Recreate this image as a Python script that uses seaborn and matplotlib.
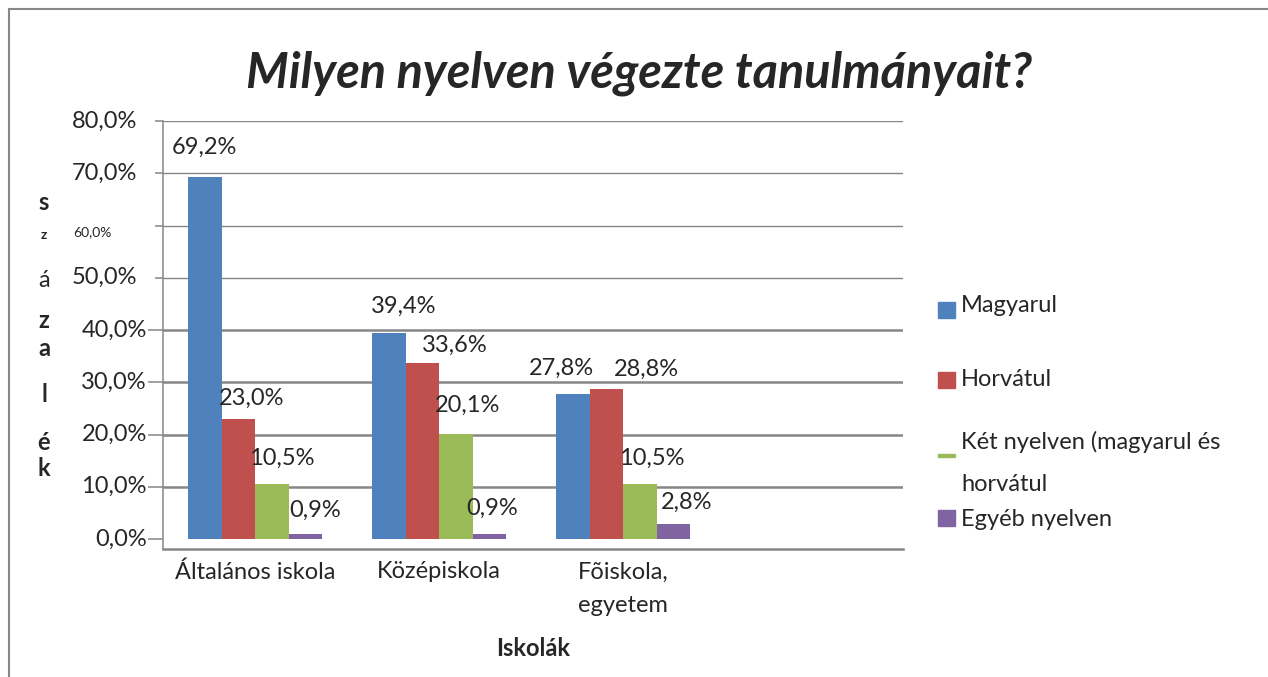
import numpy as np
import pandas as pd
import seaborn as sns
import matplotlib.pyplot as plt
from matplotlib.patches import Rectangle
from matplotlib.lines import Line2D

# adatok
iskolak = ['Általános iskola', 'Középiskola', 'Fõiskola,\negyetem']
nyelvek = ['Magyarul', 'Horvátul', 'Két nyelven (magyarul és horvátul', 'Egyéb nyelven']
magyarul = [69.2, 39.4, 27.8]
horvatul = [23.0, 33.6, 28.8]
ket_nyelven = [10.5, 20.1, 10.5]
egyeb = [0.9, 0.9, 2.8]
y_ticks = [0, 10, 20, 30, 40, 50, 60, 70, 80]
szinek = ['#4F81BD', '#C0504D', '#9BBB59', '#8064A2']
cim = 'Milyen nyelven végezte tanulmányait?'
y_cimke = 'százalék'
x_cimke = 'Iskolák'

# címkék eltolása pixelben (oszlop közepétől / tetejétől)
label_dx = [[0, 15, -12], [13, 32, 40], [10, 12, 12], [10, 3, 13]]
label_dy = [[30, 27, 25], [20, 18, 19], [26, 29, 26], [24, 26, 22]]

W, H = 1268, 677
def fx(x):
    return x / W
def fy(y):
    return 1 - y / H

ertekek = [magyarul, horvatul, ket_nyelven, egyeb]
df = pd.DataFrame({
    'iskola': iskolak * len(nyelvek),
    'nyelv': np.repeat(nyelvek, len(iskolak)),
    'arany': sum(ertekek, []),
})

sns.set_style('white')
plt.rcParams['font.family'] = ['Lato', 'DejaVu Sans']
szurke = '#868686'
betu = 17

fig = plt.figure(figsize=(W / 100, H / 100), dpi=100)
ax = fig.add_axes([fx(163), fy(549), 740 / W, 428 / H])

sns.barplot(data=df, x='iskola', y='arany', hue='nyelv', order=iskolak, hue_order=nyelvek,
            palette=szinek, saturation=1, width=0.728, errorbar=None, legend=False,
            linewidth=0, ax=ax)

ax.set_xlim(-0.5, 3.52)
ax.set_ylim(-1.91, 80)

# rácsvonalak
for v in y_ticks[1:]:
    ax.axhline(v, color=szurke, lw=1.0 if v >= 50 else 1.8, zorder=0)

for s in ['top', 'right']:
    ax.spines[s].set_visible(False)
ax.spines['left'].set_color(szurke)
ax.spines['left'].set_linewidth(1.1)
ax.spines['bottom'].set_color(szurke)
ax.spines['bottom'].set_linewidth(1.8)

# y tengely: jelölők és feliratok kézzel igazítva
ax.set_yticks(y_ticks)
ax.set_yticklabels([])
ax.tick_params(axis='y', length=15 * 0.72, width=1.1, color=szurke, left=True)
for v in y_ticks:
    if v == 60:
        dx, dy, meret = 51, -7, 10
    elif v >= 50:
        dx, dy, meret = 26, 0, betu
    else:
        dx, dy, meret = 16, 0, betu
    ax.annotate(f'{v:.1f}%'.replace('.', ','), xy=(0, v), xycoords=('axes fraction', 'data'),
                xytext=(-dx * 0.72, dy * 0.72), textcoords='offset points',
                ha='right', va='center', fontsize=meret, annotation_clip=False)

ax.set_xticks(range(len(iskolak)))
ax.set_xticklabels(iskolak, linespacing=1.75)
ax.tick_params(axis='x', length=0, pad=9, labelsize=betu)
for lab in ax.get_xticklabels():
    lab.set_multialignment('left')

ax.set_xlabel(x_cimke, fontsize=betu, fontweight='bold', labelpad=15)
ax.set_ylabel('')

# adatcímkék
for i, cont in enumerate(ax.containers):
    anns = ax.bar_label(cont, labels=[f'{v:.1f}%'.replace('.', ',') for v in ertekek[i]],
                        fontsize=betu)
    for j, ann in enumerate(anns):
        ann.xyann = (label_dx[i][j] * 0.72, label_dy[i][j] * 0.72)
        ann.set_va('center')

# felső jelölők rövidebbek
for tick, v in zip(ax.yaxis.get_major_ticks(), y_ticks):
    if v >= 50:
        tick.tick1line.set_markersize(8 * 0.72)

# függőleges tengelycím betűnként
betu_y = [202, 235, 280, 320, 349, 395, 443, 469]
for b, y, k in zip(y_cimke, betu_y, range(len(y_cimke))):
    meret = 10 if k == 1 else betu
    suly = 'normal' if b == 'á' else 'bold'
    fig.text(fx(44), fy(y), b, fontsize=meret, fontweight=suly, ha='center', va='center')

# cím
fig.text(fx(639), fy(73), cim, fontsize=35, fontweight='bold', style='italic',
         ha='center', va='center')

# jelmagyarázat
jel_y = [310, 380, 455, 518]
szoveg_y = [305, 380, 463, 519]
for nev, szin, jy, sy, k in zip(nyelvek, szinek, jel_y, szoveg_y, range(4)):
    if k == 2:
        fig.add_artist(Rectangle((fx(938), fy(jy + 1.5)), 17 / W, 3 / H, color=szin,
                                 transform=fig.transFigure))
        nev = nev.replace(' horvátul', '\nhorvátul')
    else:
        fig.add_artist(Rectangle((fx(938), fy(jy + 8)), 17 / W, 16 / H, color=szin,
                                 transform=fig.transFigure))
    fig.text(fx(961), fy(sy), nev, fontsize=betu, ha='left', va='center', linespacing=2.2)

# keret
fig.add_artist(Line2D([fx(9), 1], [fy(9), fy(9)], transform=fig.transFigure, color='#888888', lw=1.5))
fig.add_artist(Line2D([fx(9), fx(9)], [0, fy(9)], transform=fig.transFigure, color='#888888', lw=1.5))

fig.savefig('out.png', dpi=100)
